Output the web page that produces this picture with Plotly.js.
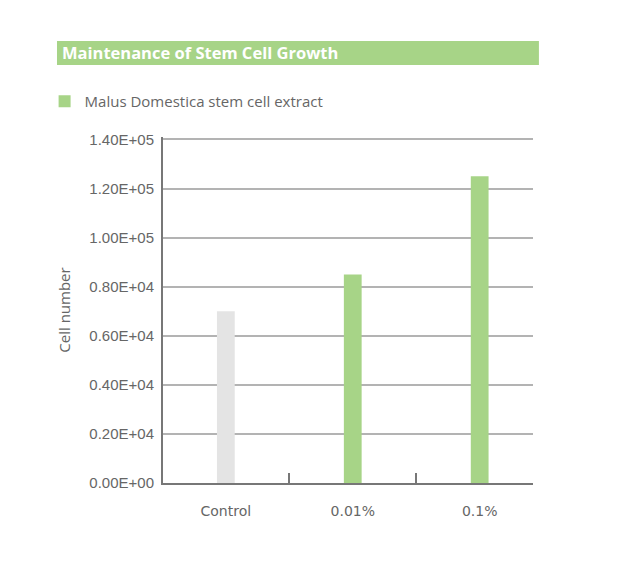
<!DOCTYPE html>
<html>
<head>
<meta charset="utf-8">
<script src="https://cdn.plot.ly/plotly-3.0.1.min.js"></script>
<style>
  body { margin: 0; background: #fff; }
  #chart { width: 628px; height: 565px; }
</style>
</head>
<body>
<div id="chart"></div>
<script>
const categories = ["Control", "0.01%", "0.1%"];
const cellCounts = [70000, 85000, 125000];
const seriesName = "Malus Domestica stem cell extract";
const yTickVals = [0, 20000, 40000, 60000, 80000, 100000, 120000, 140000];
const yTickText = [
  "0.00E+00", "0.20E+04", "0.40E+04", "0.60E+04",
  "0.80E+04", "1.00E+05", "1.20E+05", "1.40E+05"
];

const GREEN = "#a7d487";
const GREY = "#e4e4e4";
const TEXT = "#666666";
const FONT = "'Open Sans', sans-serif";

// control bar is grey and kept out of the legend
const traces = [
  {
    type: "bar",
    x: categories.slice(0, 1),
    y: cellCounts.slice(0, 1),
    width: 0.14,
    marker: { color: GREY },
    showlegend: false,
    hoverinfo: "x+y"
  },
  {
    type: "bar",
    name: seriesName,
    x: categories.slice(1),
    y: cellCounts.slice(1),
    width: 0.14,
    marker: { color: GREEN },
    hoverinfo: "x+y"
  }
];

const layout = {
  width: 628,
  height: 565,
  margin: { l: 163, r: 95, t: 137, b: 82 },
  paper_bgcolor: "#fff",
  plot_bgcolor: "#fff",
  font: { family: FONT, color: TEXT },
  barmode: "overlay",
  title: {
    text: "<b>Maintenance of Stem Cell Growth</b>",
    font: { family: FONT, size: 16.5, color: "#fff" },
    xref: "container",
    yref: "container",
    x: 62 / 628,
    y: 1 - 53 / 565,
    xanchor: "left",
    yanchor: "middle"
  },
  shapes: [
    {
      type: "rect",
      xref: "paper",
      yref: "paper",
      x0: -0.2865,
      x1: 1.016,
      y0: 1.208,
      y1: 1.2775,
      fillcolor: GREEN,
      line: { width: 0 },
      layer: "below"
    }
  ],
  legend: {
    x: -0.32,
    y: 1.15,
    xanchor: "left",
    yanchor: "top",
    font: { family: FONT, size: 15, color: TEXT },
    bgcolor: "rgba(0,0,0,0)"
  },
  xaxis: {
    type: "category",
    range: [-0.495, 2.42],
    showgrid: false,
    showline: true,
    linecolor: "#777",
    linewidth: 2,
    tickson: "boundaries",
    ticks: "inside",
    ticklen: 10,
    tickwidth: 2,
    tickcolor: "#777",
    ticklabelstandoff: 14,
    tickfont: { family: "'DejaVu Sans', sans-serif", size: 14, color: TEXT },
    fixedrange: true
  },
  yaxis: {
    range: [0, 141000],
    tickvals: yTickVals,
    ticktext: yTickText,
    showgrid: true,
    gridcolor: "#b3b3b3",
    gridwidth: 1.5,
    zeroline: false,
    showline: true,
    linecolor: "#777",
    linewidth: 2,
    ticks: "outside",
    ticklen: 4,
    tickcolor: "rgba(0,0,0,0)",
    tickfont: { family: "'Liberation Sans', sans-serif", size: 15, color: TEXT },
    title: {
      text: "Cell number",
      font: { family: FONT, size: 15, color: TEXT },
      standoff: 15
    },
    fixedrange: true
  }
};

Plotly.newPlot("chart", traces, layout, { displayModeBar: false, responsive: false });
</script>
</body>
</html>
